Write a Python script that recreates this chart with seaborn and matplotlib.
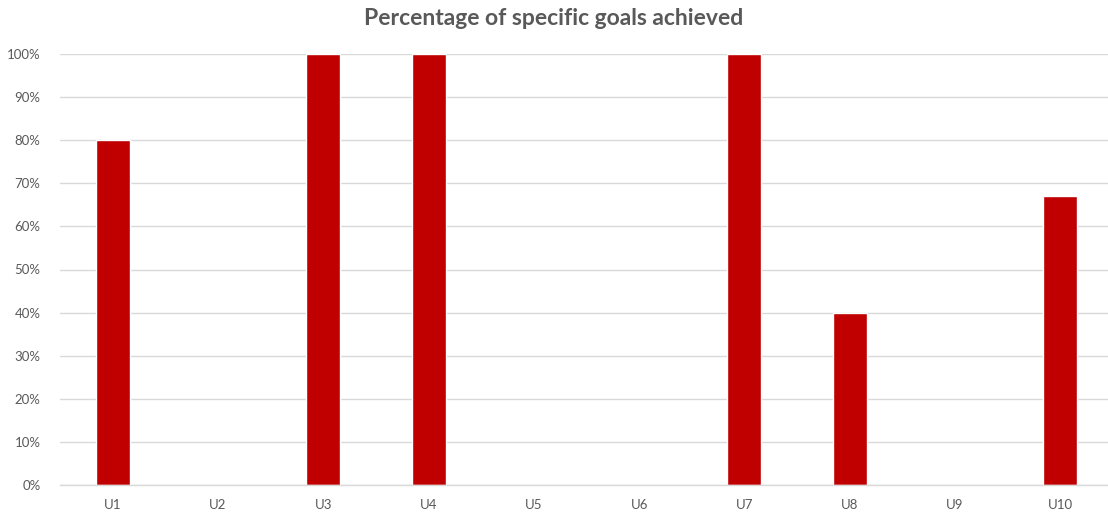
import matplotlib
matplotlib.use("Agg")
import matplotlib.pyplot as plt
import seaborn as sns
import pandas as pd
from matplotlib.ticker import PercentFormatter, MultipleLocator

categories = ["U1", "U2", "U3", "U4", "U5", "U6", "U7", "U8", "U9", "U10"]
values = [80, 0, 100, 100, 0, 0, 100, 40, 0, 67]

df = pd.DataFrame({"unit": categories, "pct": values})

sns.set_theme(style="white")
plt.rcParams['font.family'] = ['Lato', 'DejaVu Sans']

fig = plt.figure(figsize=(11.08, 5.15), dpi=100)
ax = fig.add_axes([60 / 1108, 30 / 515, 1053 / 1108, 431 / 515])

sns.barplot(data=df, x="unit", y="pct", color="#C00000", saturation=1, width=0.323, ax=ax)

ax.set_ylim(0, 100)
ax.set_xlim(-0.5, len(categories) - 0.5)
ax.yaxis.set_major_locator(MultipleLocator(10))
ax.yaxis.set_major_formatter(PercentFormatter(decimals=0))
ax.grid(axis="y", color="#D9D9D9", linewidth=1)
ax.set_axisbelow(True)
for s in ["top", "right", "left"]:
    ax.spines[s].set_visible(False)
ax.spines["bottom"].set_color("#D9D9D9")
ax.spines["bottom"].set_linewidth(1)
ax.tick_params(axis="x", length=0, labelsize=9.5, labelcolor="#595959", pad=10)
ax.tick_params(axis="y", length=0, labelsize=9.5, labelcolor="#595959", pad=14)
ax.set_xlabel("")
ax.set_ylabel("")
fig.text(0.5, 0.965, "Percentage of specific goals achieved", ha="center", va="center",
         fontsize=16.5, fontweight="bold", color="#595959")

fig.savefig("out.png", dpi=100)
